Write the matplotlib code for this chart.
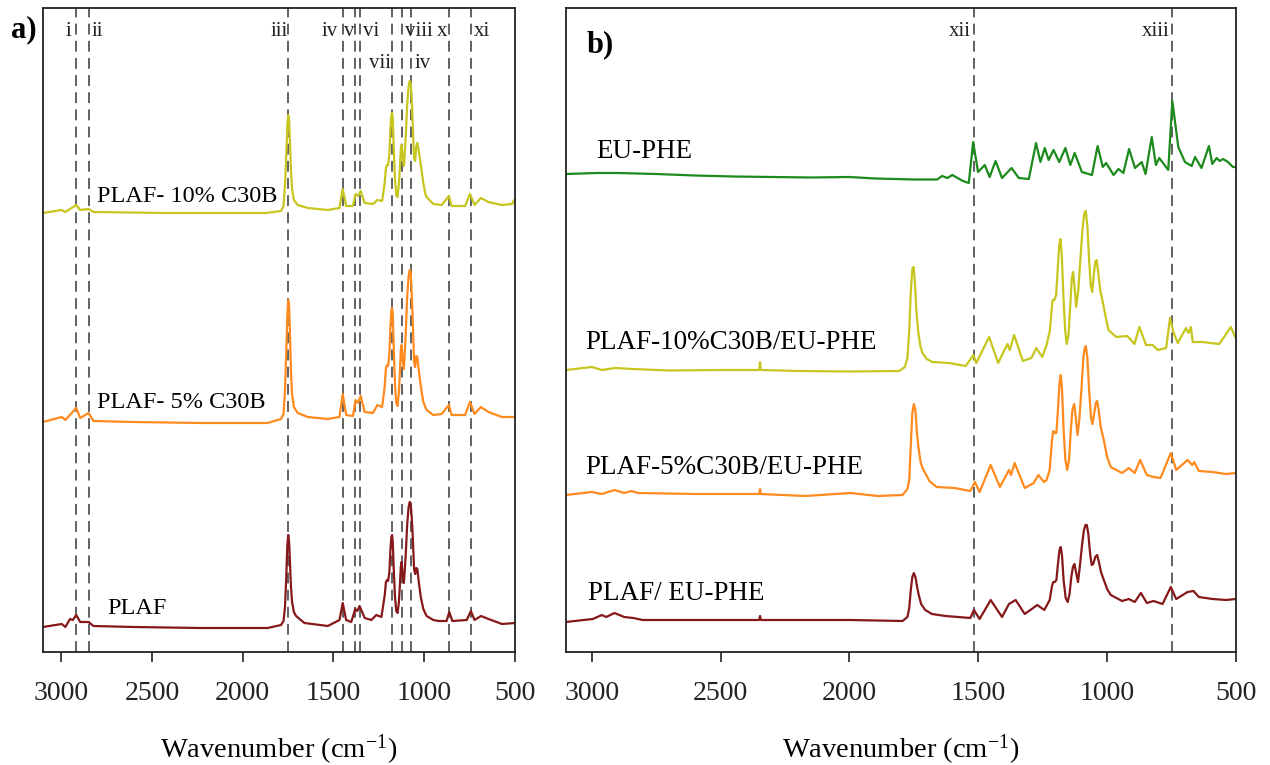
import numpy as np
import matplotlib
matplotlib.use('Agg')
import matplotlib.pyplot as plt

plt.rcParams['font.family'] = ['Liberation Serif', 'DejaVu Serif']
plt.rcParams['mathtext.fontset'] = 'custom'
plt.rcParams['mathtext.rm'] = 'Liberation Serif'
plt.rcParams['mathtext.it'] = 'Liberation Serif:italic'

# ---------------- panel a) datos ----------------
plaf_wn = [3100, 2997, 2977, 2951, 2936, 2917, 2895, 2849, 2822, 2601, 2232, 1863,
           1789, 1775, 1767, 1760, 1754, 1749, 1744, 1739, 1734, 1728, 1718, 1706,
           1660, 1531, 1467, 1449, 1430, 1402, 1380, 1369, 1356, 1328, 1291, 1264, 1236,
           1218, 1211, 1205, 1199, 1192, 1186, 1181, 1177, 1173, 1168, 1161, 1154, 1147,
           1140, 1134, 1129, 1125, 1119, 1112, 1102, 1094, 1086, 1080, 1075, 1069, 1063,
           1056, 1050, 1044, 1038, 1030, 1019, 1005, 987, 950, 922, 877, 862, 845, 766,
           743, 723, 687, 646, 572, 499]
plaf_ab = [0.00, 0.03, 0.00, 0.08, 0.07, 0.12, 0.05, 0.05, 0.01, 0.00, -0.01, -0.01,
           0.02, 0.06, 0.20, 0.50, 0.82, 0.92, 0.84, 0.62, 0.40, 0.25, 0.15, 0.11,
           0.04, 0.01, 0.07, 0.24, 0.07, 0.05, 0.18, 0.16, 0.21, 0.09, 0.07, 0.12, 0.10,
           0.31, 0.45, 0.47, 0.46, 0.55, 0.78, 0.90, 0.92, 0.84, 0.58, 0.30, 0.16, 0.14,
           0.24, 0.42, 0.60, 0.65, 0.52, 0.44, 0.72, 1.02, 1.20, 1.25, 1.24, 1.10, 0.90,
           0.58, 0.53, 0.59, 0.58, 0.45, 0.30, 0.18, 0.11, 0.07, 0.06, 0.06, 0.15, 0.06,
           0.07, 0.16, 0.07, 0.11, 0.08, 0.03, 0.04]

p5_wn = [3100, 2997, 2977, 2917, 2895, 2849, 2822, 2601, 2232, 1863,
         1789, 1775, 1767, 1760, 1754, 1749, 1744, 1739, 1734, 1728, 1718, 1697,
         1641, 1531, 1467, 1449, 1430, 1393, 1378, 1365, 1350, 1328, 1282, 1258, 1232,
         1218, 1211, 1205, 1199, 1192, 1186, 1181, 1177, 1173, 1168, 1161, 1154, 1147,
         1140, 1134, 1129, 1125, 1119, 1112, 1102, 1094, 1086, 1080, 1075, 1069, 1063,
         1056, 1050, 1044, 1038, 1030, 1019, 1005, 987, 950, 904, 864, 849, 775, 748,
         723, 688, 646, 572, 499]
p5_ab = [0.00, 0.05, 0.02, 0.14, 0.04, 0.09, 0.01, 0.00, -0.01, -0.01,
         0.03, 0.08, 0.32, 0.70, 1.08, 1.22, 1.15, 0.85, 0.50, 0.28, 0.15, 0.09,
         0.05, 0.03, 0.05, 0.28, 0.07, 0.06, 0.22, 0.19, 0.26, 0.10, 0.09, 0.17, 0.15,
         0.35, 0.54, 0.57, 0.56, 0.68, 0.96, 1.12, 1.14, 1.06, 0.74, 0.38, 0.19, 0.16,
         0.28, 0.50, 0.72, 0.77, 0.62, 0.53, 0.88, 1.25, 1.46, 1.52, 1.50, 1.30, 1.00,
         0.60, 0.55, 0.66, 0.65, 0.52, 0.36, 0.20, 0.12, 0.07, 0.08, 0.17, 0.07, 0.07, 0.20,
         0.08, 0.15, 0.10, 0.05, 0.05]

p10_wn = [3100, 2997, 2977, 2917, 2895, 2849, 2822, 2424, 1871,
          1789, 1775, 1767, 1760, 1754, 1749, 1744, 1739, 1734, 1728, 1718, 1697,
          1641, 1531, 1467, 1449, 1430, 1393, 1378, 1365, 1350, 1328, 1282, 1258, 1232,
          1218, 1211, 1205, 1199, 1192, 1186, 1181, 1177, 1173, 1168, 1161, 1154, 1147,
          1140, 1134, 1129, 1125, 1119, 1112, 1102, 1094, 1086, 1080, 1075, 1069, 1063,
          1056, 1050, 1044, 1038, 1030, 1019, 1005, 995, 987, 950, 904, 864, 849, 775,
          748, 723, 688, 646, 572, 517, 504, 499]
p10_ab = [0.00, 0.03, 0.01, 0.08, 0.03, 0.04, 0.01, 0.00, 0.00,
          0.02, 0.07, 0.28, 0.58, 0.88, 0.98, 0.92, 0.68, 0.42, 0.24, 0.13, 0.08,
          0.05, 0.03, 0.05, 0.24, 0.07, 0.07, 0.19, 0.17, 0.22, 0.10, 0.09, 0.13, 0.12,
          0.30, 0.45, 0.48, 0.48, 0.60, 0.85, 0.98, 1.00, 0.94, 0.64, 0.34, 0.18, 0.16,
          0.28, 0.45, 0.64, 0.68, 0.55, 0.47, 0.76, 1.08, 1.27, 1.32, 1.30, 1.15, 0.86,
          0.55, 0.52, 0.66, 0.70, 0.62, 0.48, 0.30, 0.20, 0.16, 0.09, 0.08, 0.17, 0.07, 0.07,
          0.19, 0.08, 0.15, 0.11, 0.08, 0.09, 0.13, 0.08]

a_lines = [2917, 2849, 1749, 1449, 1380, 1356, 1177, 1125, 1075, 862, 743]

# ---------------- panel b) ----------------
eu_wn = [3100, 2980, 2900, 2750, 2600, 2450, 2300, 2150, 2000, 1900, 1750, 1660, 1640,
         1620, 1601, 1560, 1537, 1520, 1501, 1475, 1456, 1433, 1408, 1371, 1343, 1304,
         1276, 1259, 1242, 1227, 1208, 1186, 1162, 1143, 1126, 1098, 1059, 1037, 1017,
         1004, 975, 956, 937, 915, 892, 866, 851, 827, 811, 798, 763, 747, 724, 698, 672,
         659, 634, 605, 592, 575, 563, 550, 531, 512, 500]
eu_ab = [0.00, 0.01, 0.01, 0.00, -0.015, -0.025, -0.03, -0.035, -0.03, -0.045, -0.055,
         -0.055, -0.02, -0.04, -0.01, -0.07, -0.09, 0.32, 0.02, 0.09, -0.03, 0.13, -0.04,
         0.06, -0.04, -0.05, 0.31, 0.12, 0.26, 0.14, 0.24, 0.12, 0.26, 0.09, 0.21, 0.02,
         -0.01, 0.28, 0.07, 0.11, -0.01, 0.05, 0.01, 0.25, 0.06, 0.12, 0.00, 0.37, 0.09,
         0.16, 0.04, 0.73, 0.27, 0.12, 0.08, 0.17, 0.06, 0.28, 0.10, 0.16, 0.13, 0.15,
         0.12, 0.07, 0.07]

b10_wn = [3100, 3000, 2960, 2910, 2840, 2700, 2500, 2350, 2347, 2344, 2200, 2000,
          1807, 1785, 1775, 1768, 1762, 1756, 1751, 1746, 1740, 1733, 1725, 1717, 1700,
          1678, 1614, 1549, 1519, 1508, 1458, 1423, 1387, 1378, 1361, 1327, 1294, 1275,
          1252, 1235, 1222, 1212, 1205, 1198, 1192, 1186, 1181, 1176, 1170, 1163, 1157,
          1150, 1143, 1137, 1132, 1127, 1120, 1112, 1104, 1096, 1089, 1083, 1077, 1070,
          1064, 1058, 1052, 1046, 1041, 1035, 1027, 1017, 1005, 995, 965, 922, 894, 875,
          849, 823, 804, 771, 756, 743, 726, 694, 684, 675, 668, 630, 598, 565, 520, 503,
          500]
b10_ab = [0.00, 0.03, 0.00, 0.02, 0.01, -0.005, 0.00, 0.00, 0.08, 0.00, -0.01, -0.015,
          -0.01, 0.03, 0.12, 0.40, 0.78, 1.01, 1.03, 0.87, 0.58, 0.38, 0.24, 0.17, 0.11,
          0.08, 0.07, 0.04, 0.15, 0.07, 0.33, 0.07, 0.26, 0.20, 0.35, 0.09, 0.12, 0.22,
          0.13, 0.25, 0.40, 0.70, 0.70, 0.75, 1.00, 1.25, 1.31, 1.15, 0.75, 0.40, 0.26,
          0.35, 0.65, 0.92, 0.98, 0.85, 0.63, 0.80, 1.10, 1.40, 1.56, 1.59, 1.45, 1.10,
          0.85, 0.78, 0.95, 1.08, 1.10, 0.98, 0.80, 0.68, 0.52, 0.40, 0.33, 0.34, 0.26, 0.43,
          0.25, 0.25, 0.20, 0.22, 0.52, 0.38, 0.27, 0.42, 0.37, 0.43, 0.28, 0.28, 0.27,
          0.26, 0.43, 0.33, 0.32]

b5_wn = [3100, 3000, 2961, 2912, 2874, 2847, 2821, 2593, 2350, 2347, 2344, 2171, 1996,
         1890, 1794, 1775, 1768, 1762, 1756, 1750, 1744, 1738, 1732, 1724, 1715, 1706,
         1690, 1662, 1592, 1531, 1513, 1495, 1452, 1416, 1381, 1373, 1359, 1320, 1285,
         1267, 1245, 1235, 1223, 1214, 1209, 1203, 1197, 1191, 1185, 1180, 1175, 1169,
         1162, 1155, 1148, 1141, 1135, 1128, 1122, 1115, 1108, 1100, 1093, 1088, 1083,
         1077, 1070, 1063, 1057, 1050, 1044, 1039, 1033, 1025, 1013, 1000, 986, 942, 916,
         893, 872, 846, 820, 793, 753, 732, 688, 670, 662, 644, 591, 539, 500]
b5_ab = [0.00, 0.03, 0.01, 0.05, 0.02, 0.04, 0.02, 0.01, 0.01, 0.06, 0.01, -0.01, 0.02,
         -0.01, 0.00, 0.06, 0.15, 0.50, 0.82, 0.91, 0.84, 0.62, 0.47, 0.33, 0.26, 0.22,
         0.14, 0.08, 0.07, 0.04, 0.13, 0.03, 0.30, 0.08, 0.25, 0.20, 0.32, 0.07, 0.12,
         0.20, 0.13, 0.15, 0.25, 0.55, 0.64, 0.62, 0.62, 0.85, 1.12, 1.20, 1.05, 0.65,
         0.35, 0.25, 0.35, 0.65, 0.85, 0.91, 0.78, 0.60, 0.75, 1.05, 1.35, 1.46, 1.49,
         1.38, 1.05, 0.78, 0.71, 0.82, 0.92, 0.94, 0.85, 0.68, 0.55, 0.38, 0.28, 0.22, 0.27,
         0.22, 0.35, 0.20, 0.18, 0.17, 0.42, 0.25, 0.35, 0.30, 0.33, 0.24, 0.23, 0.21, 0.22]

b0_wn = [3100, 3032, 2996, 2961, 2944, 2912, 2874, 2839, 2803, 2593, 2350, 2347, 2344,
         2206, 1996, 1794, 1775, 1768, 1762, 1756, 1750, 1744, 1738, 1732, 1722, 1706,
         1680, 1627, 1531, 1517, 1495, 1452, 1408, 1381, 1355, 1320, 1271, 1244, 1223,
         1214, 1209, 1203, 1197, 1191, 1185, 1180, 1175, 1169, 1161, 1153, 1146, 1139,
         1133, 1127, 1121, 1113, 1105, 1097, 1090, 1084, 1079, 1073, 1066, 1060, 1054,
         1046, 1039, 1032, 1024, 1013, 1000, 986, 942, 916, 893, 869, 846, 820, 785, 753,
         732, 688, 665, 644, 591, 539, 500]
b0_ab = [0.00, 0.02, 0.03, 0.07, 0.05, 0.09, 0.05, 0.04, 0.02, 0.02, 0.02, 0.06, 0.02,
         0.02, 0.02, 0.01, 0.05, 0.14, 0.32, 0.45, 0.49, 0.45, 0.36, 0.28, 0.18, 0.12,
         0.08, 0.06, 0.04, 0.12, 0.03, 0.22, 0.05, 0.18, 0.22, 0.08, 0.17, 0.12, 0.22,
         0.36, 0.40, 0.40, 0.42, 0.58, 0.72, 0.75, 0.66, 0.42, 0.24, 0.20, 0.28, 0.45,
         0.55, 0.58, 0.50, 0.40, 0.58, 0.78, 0.92, 0.97, 0.97, 0.88, 0.68, 0.57, 0.58,
         0.65, 0.67, 0.60, 0.50, 0.42, 0.33, 0.27, 0.21, 0.23, 0.20, 0.29, 0.19, 0.21, 0.18,
         0.35, 0.23, 0.30, 0.31, 0.25, 0.23, 0.22, 0.23]

b_lines = [1518, 750]

# colores
c_red = '#86181a'
c_orange = '#ff8a1e'
c_yellow = '#c6c61e'
c_green = '#1c8a1c'
c_dash = '#555555'

fig = plt.figure(figsize=(12.7, 7.65), dpi=100)
ax_a = fig.add_axes([43/1270, 113/765, 472/1270, 644/765])
ax_b = fig.add_axes([566/1270, 113/765, 670/1270, 644/765])


def style_axis(ax):
    ax.set_xlim(3100, 500)
    ax.set_ylim(0, 6.44)
    ax.set_xticks([3000, 2500, 2000, 1500, 1000, 500])
    ax.set_yticks([])
    ax.tick_params(axis='x', direction='out', length=7, width=1.2,
                   labelsize=20, pad=14, colors='#222222')
    for s in ax.spines.values():
        s.set_linewidth(1.3)
        s.set_color('#222222')
    ax.set_xlabel('Wavenumber (cm$^{-1}$)', fontsize=20.5, labelpad=19)


# ---- a) ----
for wn in a_lines:
    ax_a.axvline(wn, color=c_dash, lw=1.3, ls=(0, (6, 3.5)), zorder=1)
ax_a.plot(plaf_wn, np.array(plaf_ab) + 0.25, color=c_red, lw=1.6, zorder=2)
ax_a.plot(p5_wn, np.array(p5_ab) + 2.30, color=c_orange, lw=1.6, zorder=2)
ax_a.plot(p10_wn, np.array(p10_ab) + 4.39, color=c_yellow, lw=1.6, zorder=2)

ax_a.text(2801, 4.55, 'PLAF- 10% C30B', fontsize=17.5, va='center')
ax_a.text(2801, 2.49, 'PLAF- 5% C30B', fontsize=17.5, va='center')
ax_a.text(2746, 0.43, 'PLAF', fontsize=17.5, va='center')

a_labels = ['i', 'ii', 'iii', 'iv', 'v', 'vi', 'vii', 'viii', 'iv', 'x', 'xi']
a_lab_x = [2962, 2801, 1800, 1518, 1413, 1291, 1241, 1029, 1006, 904, 683]
a_lab_row = [0, 0, 0, 0, 0, 0, 1, 0, 1, 0, 0]
for lab, xx, row in zip(a_labels, a_lab_x, a_lab_row):
    ax_a.text(xx, 6.21 if row == 0 else 5.89, lab, fontsize=15,
              ha='center', va='center', color='#222222')
style_axis(ax_a)

# ---- b) ----
for wn in b_lines:
    ax_b.axvline(wn, color=c_dash, lw=1.3, ls=(0, (6, 3.5)), zorder=1)
ax_b.plot(eu_wn, np.array(eu_ab) + 4.78, color=c_green, lw=1.6, zorder=2)
ax_b.plot(b10_wn, np.array(b10_ab) + 2.82, color=c_yellow, lw=1.6, zorder=2)
ax_b.plot(b5_wn, np.array(b5_ab) + 1.57, color=c_orange, lw=1.6, zorder=2)
ax_b.plot(b0_wn, np.array(b0_ab) + 0.30, color=c_red, lw=1.6, zorder=2)

ax_b.text(2984, 5.00, 'EU-PHE', fontsize=19.5, va='center')
ax_b.text(3026, 3.10, 'PLAF-10%C30B/EU-PHE', fontsize=19.5, va='center')
ax_b.text(3026, 1.85, 'PLAF-5%C30B/EU-PHE', fontsize=19.5, va='center')
ax_b.text(3015, 0.59, 'PLAF/ EU-PHE', fontsize=19.5, va='center')
ax_b.text(1571, 6.21, 'xii', fontsize=15, ha='center', va='center', color='#222222')
ax_b.text(813, 6.21, 'xiii', fontsize=15, ha='center', va='center', color='#222222')
style_axis(ax_b)

fig.text(24/1270, 1 - 30/765, 'a)', fontsize=22, fontweight='bold',
         ha='center', va='center')
fig.text(600/1270, 1 - 45/765, 'b)', fontsize=22, fontweight='bold',
         ha='center', va='center')

fig.savefig('out.png', dpi=100)
